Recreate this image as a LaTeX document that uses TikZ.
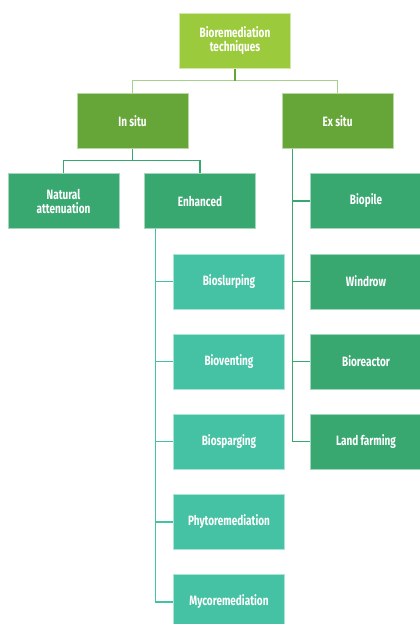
\documentclass[tikz,border=0pt]{standalone}
\usepackage{fontspec}
\newfontfamily\boxfont{Fira Sans}[FakeStretch=0.74]
\usetikzlibrary{calc}

\definecolor{rootfill}{HTML}{9BCB3C}
\definecolor{sitefill}{HTML}{66A639}
\definecolor{kindfill}{HTML}{38A770}
\definecolor{leaffill}{HTML}{45C1A3}
\definecolor{barlight}{HTML}{A9D18E}

\tikzset{
  techbox/.style={draw=#1!45, line width=0.8pt, fill=#1, text=white,
    minimum width=111pt, minimum height=55pt, inner sep=2pt, align=center,
    font=\boxfont\bfseries\fontsize{13.5}{14}\selectfont},
  link/.style={draw=#1, line width=1.2pt},
}

\begin{document}
\begin{tikzpicture}[x=1pt, y=1pt]
			%%%%% START %%%%%
			\clip (0,0) rectangle (420,624);
			
			\node[techbox=rootfill] (root) at (235, 583) {Bioremediation\\techniques};
			
			\node[techbox=sitefill] (insitu) at (132.5, 503) {In situ};
			\node[techbox=sitefill] (exsitu) at (337.5, 503) {Ex situ};
			
			\node[techbox=kindfill] (natural) at (63.5, 423) {Natural\\attenuation};
			\node[techbox=kindfill] (enhanced) at (200, 423) {Enhanced};
			
			\node[techbox=kindfill] (biopile) at (366, 423) {Biopile};
			\node[techbox=kindfill] (windrow) at (366, 342.5) {Windrow};
			\node[techbox=kindfill] (bioreactor) at (366, 262.5) {Bioreactor};
			\node[techbox=kindfill] (landfarm) at (366, 182.5) {Land farming};
			
			\node[techbox=leaffill] (bioslurp) at (229, 342.5) {Bioslurping};
			\node[techbox=leaffill] (biovent) at (229, 262.5) {Bioventing};
			\node[techbox=leaffill] (biosparg) at (229, 182.5) {Biosparging};
			\node[techbox=leaffill] (phyto) at (229, 102) {Phytoremediation};
			\node[techbox=leaffill] (myco) at (229, 22) {Mycoremediation};
			
			% top fork
			\coordinate (rootfork) at ($(root.south)+(0,-12)$);
			\draw[link=barlight] (insitu.north) |- (rootfork) -| (exsitu.north);
			\draw[link=sitefill] (root.south) -- (rootfork);
			
			% in situ fork
			\coordinate (sitefork) at ($(insitu.south)+(0,-12)$);
			\draw[link=kindfill] (natural.north) |- (sitefork) -| (enhanced.north);
			\draw[link=kindfill] (insitu.south) -- (sitefork);
			
			% ex situ trunk
			\foreach \leaf in {biopile, windrow, bioreactor, landfarm}
				\draw[link=kindfill] ($(exsitu.south west)+(10.5,0)$) |- (\leaf.west);
			
			% enhanced trunk
			\foreach \leaf in {bioslurp, biovent, biosparg, phyto, myco}
				\draw[link=leaffill] ($(enhanced.south west)+(11,0)$) |- (\leaf.west);
			
			%%%%% END %%%%%
\end{tikzpicture}
\end{document}
